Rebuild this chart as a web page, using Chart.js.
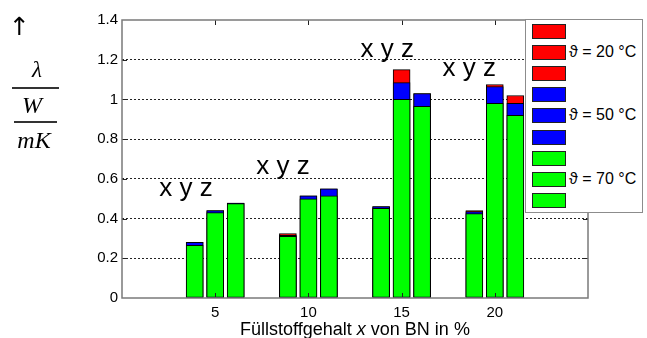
<!DOCTYPE html>
<html>
<head>
<meta charset="utf-8">
<script src="https://cdn.jsdelivr.net/npm/chart.js@4"></script>
<style>
  body { margin: 0; background: #fff; }
  #wrap { position: relative; width: 647px; height: 338px; overflow: hidden; font-family: 'Liberation Sans', Arial, sans-serif; }
  #wrap canvas { position: absolute; left: 0; top: 0; }
  .abs { position: absolute; white-space: nowrap; }
  .serif { font-family: 'Liberation Serif', 'Times New Roman', serif; font-style: italic; text-align: center; }
  .rule { position: absolute; height: 1.5px; background: #333; }
  #legend { position: absolute; left: 525px; top: 19px; width: 116px; height: 192px; border: 1px solid #8c8c8c; background: #fff; }
  .row { position: absolute; left: 6px; width: 108px; height: 15px; white-space: nowrap; }
  .sw { position: absolute; left: 0; top: 0; width: 32px; height: 13px; border: 1px solid #222; }
  .lab { position: absolute; left: 37px; top: -2px; font-size: 16px; line-height: 18px; color: #000; white-space: nowrap; }
</style>
</head>
<body>
<div id="wrap">
  <canvas id="chart"></canvas>
  <div class="abs" style="left:9px; top:13px; font-family:'DejaVu Sans', sans-serif; font-size:25px; line-height:28px;">↑</div>
  <div class="abs serif" style="left:15px; width:44px; top:59px; font-size:23px; line-height:22px;">λ</div>
  <div class="rule" style="left:12px; width:47px; top:87px;"></div>
  <div class="abs serif" style="left:12px; width:40px; top:93px; font-size:24px; line-height:24px;">W</div>
  <div class="rule" style="left:14px; width:43px; top:121px;"></div>
  <div class="abs serif" style="left:14px; width:40px; top:128px; font-size:24px; line-height:24px;">mK</div>
  <div class="abs" style="left:122px; width:466px; top:320px; text-align:center; font-size:18px; line-height:18px;">Füllstoffgehalt <i>x</i> von BN in %</div>
  <div id="legend"></div>
</div>
<script>
// Füllstoffgehalt (filler content, %) for each bar group
const filler = [5, 10, 15, 20];

// thermal conductivity λ in W/mK, per sample x / y / z and temperature
const x20 = [0.28, 0.325, 0.46, 0.44];
const y20 = [0.44, 0.515, 1.15, 1.075];
const z20 = [0.478, 0.55, 1.03, 1.02];

const x50 = [0.28, 0.315, 0.46, 0.435];
const y50 = [0.44, 0.515, 1.085, 1.065];
const z50 = [0.478, 0.55, 1.03, 0.98];

const x70 = [0.265, 0.31, 0.452, 0.425];
const y70 = [0.43, 0.50, 1.0, 0.98];
const z70 = [0.475, 0.515, 0.965, 0.92];

const yTicks = [0, 0.2, 0.4, 0.6, 0.8, 1, 1.2, 1.4];
const yTickLabels = ['0', '0.2', '0.4', '0.6', '0.8', '1', '1.2', '1.4'];

const tempLabels = ['ϑ = 20 °C', 'ϑ = 50 °C', 'ϑ = 70 °C'];
const sampleNames = ['x', 'y', 'z'];

// where the "x y z" notes sit (data units: left edge, baseline)
const noteX = [2.0, 7.2, 12.8, 17.2];
const noteY = [0.515, 0.624, 1.212, 1.119];

const colors = ['#ff0000', '#0000ff', '#00ff00'];
const sampleOffset = [-1.1, 0, 1.1];

const series = [[x20, y20, z20], [x50, y50, z50], [x70, y70, z70]];

// one dataset per temperature and sample, like the original legend
const datasets = [];
series.forEach(function(samples, t) {
    samples.forEach(function(vals, s) {
        datasets.push({
            label: s === 1 ? tempLabels[t] : '',
            data: vals.map(function(v, i) { return { x: filler[i] + sampleOffset[s], y: v }; }),
            backgroundColor: colors[t],
            borderColor: '#000',
            borderWidth: 1,
            borderSkipped: false,
            barThickness: 17,
            grouped: false,
            order: 3 - t   // green drawn on top, red at the back
        });
    });
});

// box, inward ticks and the x y z notes
const boxPlugin = {
    id: 'box',
    afterDraw(chart) {
        const c = chart.ctx;
        const a = chart.chartArea;
        const xs = chart.scales.x, ys = chart.scales.y;
        c.save();
        c.strokeStyle = '#222';
        c.lineWidth = 1;
        c.beginPath();
        filler.forEach(function(v) {
            const px = Math.round(xs.getPixelForValue(v)) + 0.5;
            c.moveTo(px, a.bottom); c.lineTo(px, a.bottom - 5);
            c.moveTo(px, a.top); c.lineTo(px, a.top + 5);
        });
        yTicks.slice(1, -1).forEach(function(v) {
            const py = Math.round(ys.getPixelForValue(v)) + 0.5;
            c.moveTo(a.left, py); c.lineTo(a.left + 5, py);
            c.moveTo(a.right, py); c.lineTo(a.right - 5, py);
        });
        c.stroke();
        c.strokeStyle = '#7a7a7a';
        c.lineWidth = 1.5;
        c.strokeRect(a.left, a.top, a.right - a.left, a.bottom - a.top);

        c.fillStyle = '#000';
        c.font = "26px 'Liberation Sans', Arial, sans-serif";
        c.textAlign = 'left';
        c.textBaseline = 'alphabetic';
        noteX.forEach(function(v, i) {
            c.fillText(sampleNames.join(' '), xs.getPixelForValue(v), ys.getPixelForValue(noteY[i]));
        });
        c.restore();
    }
};

const tickFont = { family: "'Liberation Sans', Arial, sans-serif", size: 15 };

const ctx = document.getElementById('chart');
const chart = new Chart(ctx, {
    type: 'bar',
    data: { datasets: datasets },
    options: {
        responsive: true,
        maintainAspectRatio: false,
        animation: false,
        layout: { padding: { left: 72, right: 59, top: 20, bottom: 0 } },
        plugins: {
            legend: { display: false },
            tooltip: { enabled: false }
        },
        scales: {
            x: {
                type: 'linear',
                min: 0,
                max: 25,
                offset: false,
                afterBuildTicks: function(s) { s.ticks = filler.map(function(v) { return { value: v }; }); },
                afterFit: function(s) { s.height = 40; },
                grid: { display: false, drawTicks: false },
                border: { display: false },
                ticks: { color: '#000', font: tickFont, padding: 6, maxRotation: 0 }
            },
            y: {
                min: 0,
                max: 1.4,
                afterFit: function(s) { s.width = 50; },
                afterBuildTicks: function(s) { s.ticks = yTicks.map(function(v) { return { value: v }; }); },
                ticks: {
                    color: '#000',
                    font: tickFont,
                    padding: 4,
                    callback: function(v, i) { return yTickLabels[i]; }
                },
                grid: {
                    drawTicks: false,
                    lineWidth: 1,
                    color: function(c) { return (c.tick.value > 0.01 && c.tick.value < 1.39) ? '#222' : 'rgba(0,0,0,0)'; }
                },
                border: { display: false, dash: [2, 2] }
            }
        }
    },
    plugins: [boxPlugin]
});

// legend as real text, same order as the datasets
const legend = document.getElementById('legend');
datasets.forEach(function(d, i) {
    const row = document.createElement('div');
    row.className = 'row';
    row.style.top = (4 + i * 21.1) + 'px';
    const sw = document.createElement('div');
    sw.className = 'sw';
    sw.style.background = d.backgroundColor;
    row.appendChild(sw);
    if (d.label) {
        const lab = document.createElement('div');
        lab.className = 'lab';
        lab.textContent = d.label;
        row.appendChild(lab);
    }
    legend.appendChild(row);
});
</script>
</body>
</html>
